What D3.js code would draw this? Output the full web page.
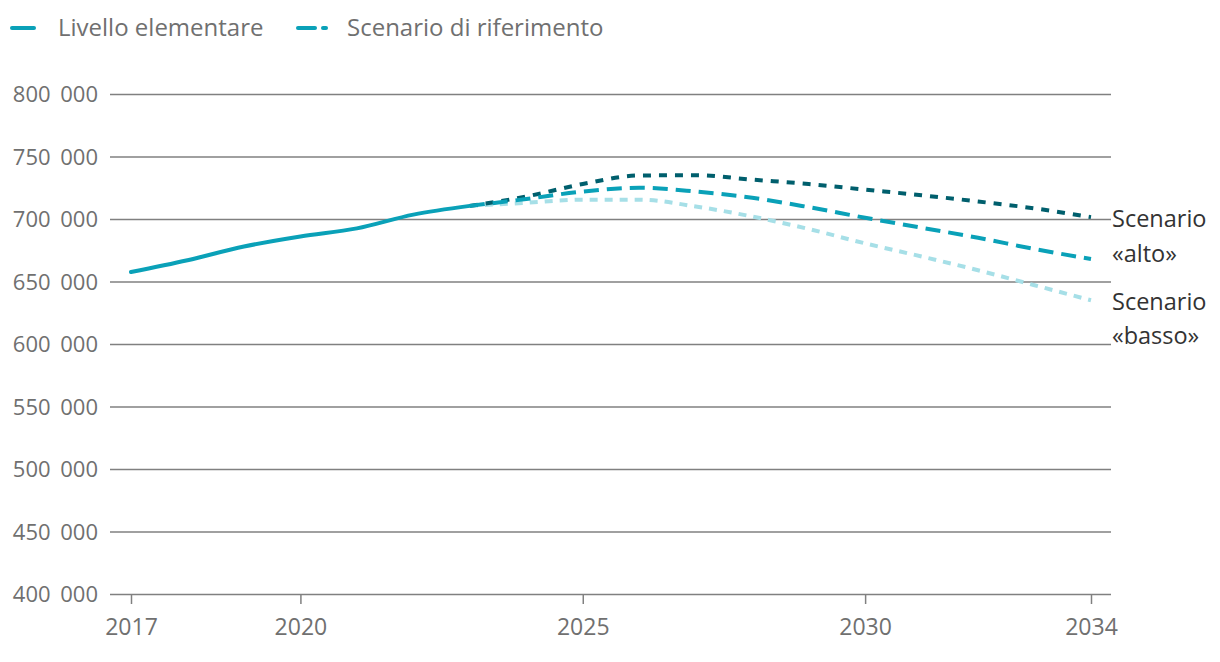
<!DOCTYPE html>
<html><head><meta charset="utf-8">
<script src="https://cdn.jsdelivr.net/npm/d3@7"></script>
<style>body{margin:0;background:#fff;font-family:"Open Sans","Noto Sans",sans-serif;}</style>
</head><body><svg id="c" width="1220" height="662"></svg>
<script>
const histYears = [2017,2018,2019,2020,2021,2022,2023];
const histValues = [657600,667000,678000,686000,692500,703500,710500];
const scenYears = [2023,2024,2025,2026,2027,2028,2029,2030,2031,2032,2033,2034];
const refValues  = [710500,716000,722000,725000,722000,717000,709500,701000,693000,685000,676000,668000];
const highValues = [710500,718000,728000,734800,735000,731500,728000,723500,719000,714000,708500,701500];
const lowValues  = [710500,713000,715500,715500,710000,702000,692000,680500,670000,659000,647000,635000];
const yTicks = [400000,450000,500000,550000,600000,650000,700000,750000,800000];
const xTicks = [2017,2020,2025,2030,2034];
const legendLabels = ["Livello elementare","Scenario di riferimento"];

const cMain="#0aa1b8", cDark="#005f6d", cLight="#a6dfe7", grey="#707070";
const svg=d3.select("#c");
const x=d3.scaleLinear().domain([2017,2034]).range([131,1091]);
const y=d3.scaleLinear().domain([400000,800000]).range([594,94]);
const fmt=v=>d3.format(",")(v).replace(/,/g," ");

const gy=svg.append("g").attr("transform","translate(1111,0)").call(d3.axisLeft(y).tickValues(yTicks).tickSize(1001).tickFormat(""));
gy.select(".domain").remove();
gy.selectAll(".tick line").attr("stroke","#808080").attr("stroke-width",1.5);
const gyl=svg.append("g").attr("transform","translate(98,0)").call(d3.axisLeft(y).tickValues(yTicks).tickSize(0).tickFormat(fmt));
gyl.select(".domain").remove();
gyl.selectAll("text").attr("fill",grey).style("font-size","22px").style("word-spacing","4px").style("font-family","'Open Sans'").attr("dy","0.35em").attr("x",0);

const gx=svg.append("g").attr("transform","translate(0,594)").call(d3.axisBottom(x).tickValues(xTicks).tickFormat(d3.format("d")).tickSize(10).tickPadding(15));
gx.select(".domain").remove();
gx.selectAll(".tick line").attr("stroke","#808080").attr("stroke-width",1.5);
gx.selectAll("text").attr("fill",grey).style("font-size","23px").style("font-family","'Open Sans'");

const line=d3.line().x(d=>x(d[0])).y(d=>y(d[1])).curve(d3.curveMonotoneX);
const zip=(a,b)=>a.map((v,i)=>[v,b[i]]);
svg.append("path").datum(zip(scenYears,lowValues)).attr("d",line).attr("fill","none").attr("stroke",cLight).attr("stroke-width",4).attr("stroke-dasharray","8,7");
svg.append("path").datum(zip(scenYears,highValues)).attr("d",line).attr("fill","none").attr("stroke",cDark).attr("stroke-width",4).attr("stroke-dasharray","8,8");
svg.append("path").datum(zip(scenYears,refValues)).attr("d",line).attr("fill","none").attr("stroke",cMain).attr("stroke-width",4).attr("stroke-dasharray","15,8");
svg.append("path").datum(zip(histYears,histValues)).attr("d",line).attr("fill","none").attr("stroke",cMain).attr("stroke-width",4).attr("stroke-linecap","round");

svg.append("line").attr("x1",12).attr("x2",34).attr("y1",28).attr("y2",28).attr("stroke",cMain).attr("stroke-width",4).attr("stroke-linecap","round");
svg.append("text").attr("x",58).attr("y",28).attr("dy","0.35em").text(legendLabels[0]).attr("fill",grey).style("font-size","24px");
svg.append("line").attr("x1",298).attr("x2",315).attr("y1",28).attr("y2",28).attr("stroke",cMain).attr("stroke-width",4).attr("stroke-linecap","round");
svg.append("line").attr("x1",323).attr("x2",326).attr("y1",28).attr("y2",28).attr("stroke",cMain).attr("stroke-width",4).attr("stroke-linecap","round");
svg.append("text").attr("x",347).attr("y",28).attr("dy","0.35em").text(legendLabels[1]).attr("fill",grey).style("font-size","24px");

const rl=[["Scenario",219],["«alto»",254],["Scenario",302],["«basso»",336]];
rl.forEach(([t,yy])=>svg.append("text").attr("x",1112).attr("y",yy).attr("dy","0.35em").text(t).attr("fill","#333").style("font-size","23.5px"));
</script></body></html>
